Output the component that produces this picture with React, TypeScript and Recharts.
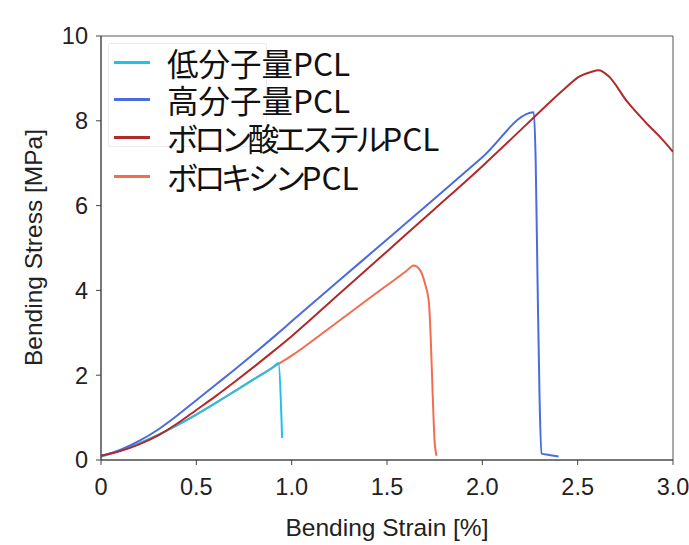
import * as React from "react";
import { Line, LineChart, ReferenceArea, XAxis, YAxis } from "recharts";

// strain [%] / stress [MPa]
const lowStrain = [0, 0.1, 0.2, 0.3, 0.4, 0.5, 0.6, 0.7, 0.8, 0.9, 0.93, 0.95];
const lowStress = [0.08, 0.22, 0.39, 0.59, 0.82, 1.07, 1.34, 1.62, 1.9, 2.18, 2.29, 0.52];

const highStrain = [0, 0.1, 0.2, 0.3, 0.4, 0.5, 0.6, 0.7, 0.8, 0.9, 1.0, 1.25, 1.5, 1.75, 2.0, 2.27, 2.28, 2.29, 2.3, 2.31, 2.35, 2.4];
const highStress = [0.1, 0.24, 0.45, 0.72, 1.05, 1.41, 1.77, 2.13, 2.5, 2.88, 3.27, 4.24, 5.2, 6.17, 7.14, 8.2, 7.0, 4.1, 1.5, 0.15, 0.12, 0.08];

const esterStrain = [0, 0.1, 0.2, 0.3, 0.4, 0.5, 0.6, 0.7, 0.8, 0.9, 1.0, 1.25, 1.5, 1.75, 2.0, 2.17, 2.27, 2.43, 2.51, 2.57, 2.61, 2.66, 2.76, 2.87, 2.94, 3.0];
const esterStress = [0.1, 0.21, 0.37, 0.58, 0.86, 1.18, 1.5, 1.84, 2.19, 2.55, 2.92, 3.92, 4.92, 5.92, 6.93, 7.65, 8.08, 8.75, 9.05, 9.15, 9.19, 9.06, 8.45, 7.9, 7.58, 7.27];

const boroxStrain = [0, 0.1, 0.2, 0.3, 0.4, 0.5, 0.6, 0.7, 0.8, 0.9, 1.0, 1.2, 1.4, 1.5, 1.6, 1.64, 1.67, 1.7, 1.72, 1.73, 1.74, 1.75, 1.76];
const boroxStress = [0.08, 0.22, 0.39, 0.59, 0.82, 1.07, 1.34, 1.62, 1.9, 2.18, 2.46, 3.12, 3.79, 4.12, 4.45, 4.59, 4.5, 4.15, 3.7, 2.8, 1.5, 0.42, 0.1];

const xTicks = [0, 0.5, 1.0, 1.5, 2.0, 2.5, 3.0];
const yTicks = [0, 2, 4, 6, 8, 10];

const seriesNames = ["低分子量PCL", "高分子量PCL", "ボロン酸エステルPCL", "ボロキシンPCL"];
const seriesColors = ["#1fc3ea", "#4a6cdc", "#b02a2a", "#f26d4f"];
const legendRows = [62, 99, 137, 176];
// kana in the original font runs narrower than Noto's full-width kana
const legendSpacing = [0, 0, -4.6, -4.6];

const toPoints = (xs: number[], ys: number[]) => xs.map((x, i) => ({ x, y: ys[i] }));

const LegendBox = () => (
    <div style={{ position: "absolute", left: 0, top: 0, pointerEvents: "none" }}>
        <div
            style={{
                position: "absolute",
                left: 108,
                top: 43,
                width: 157,
                height: 102,
                border: "1px solid #ececec",
                borderRadius: 2,
            }}
        />
        {seriesNames.map((name, i) => (
            <div
                key={name}
                style={{
                    position: "absolute",
                    left: 114,
                    top: legendRows[i] - 15,
                    height: 30,
                    display: "flex",
                    alignItems: "center",
                    whiteSpace: "nowrap",
                }}
            >
                <div style={{ width: 36, height: 3, background: seriesColors[i] }} />
                <span
                    style={{
                        marginLeft: 17,
                        fontFamily: "'Noto Sans CJK JP', sans-serif",
                        fontSize: 31.5,
                        color: "#111",
                        lineHeight: "30px",
                    }}
                >
                    <span style={{ letterSpacing: legendSpacing[i] }}>{name.replace(/PCL$/, "")}</span>
                    PCL
                </span>
            </div>
        ))}
    </div>
);

export default function App() {
    const font = "'Liberation Sans', Arial, sans-serif";
    const tickStyle = { fontFamily: font, fontSize: 23.5, fill: "#222" };
    return (
        <div style={{ position: "absolute", left: 0, top: 0, width: 689, height: 545, background: "#fff" }}>
            <LineChart width={689} height={545} margin={{ top: 36, right: 16, bottom: 55, left: 41 }}>
                <XAxis
                    dataKey="x"
                    type="number"
                    domain={[0, 3]}
                    ticks={xTicks}
                    tickFormatter={(v: number) => (v === 0 ? "0" : v.toFixed(1))}
                    height={30}
                    stroke="#444"
                    tickSize={5}
                    tickMargin={13}
                    tick={tickStyle}
                    allowDataOverflow
                    label={{
                        value: "Bending Strain [%]",
                        position: "insideBottom",
                        offset: -46,
                        style: { fontFamily: font, fontSize: 24.5, fill: "#222" },
                    }}
                />
                <YAxis
                    type="number"
                    domain={[0, 10]}
                    ticks={yTicks}
                    width={60}
                    stroke="#444"
                    tickSize={5}
                    tickMargin={8}
                    tick={tickStyle}
                    label={{
                        value: "Bending Stress [MPa]",
                        angle: -90,
                        position: "insideLeft",
                        offset: -8,
                        dy: 118,
                        style: { fontFamily: font, fontSize: 24.5, fill: "#222" },
                    }}
                />
                <ReferenceArea x1={0} x2={3} y1={0} y2={10} fill="none" stroke="#555" strokeWidth={1} />
                <Line data={toPoints(boroxStrain, boroxStress)} dataKey="y" type="monotone" stroke={seriesColors[3]} strokeWidth={2} dot={false} isAnimationActive={false} />
                <Line data={toPoints(lowStrain, lowStress)} dataKey="y" type="monotone" stroke={seriesColors[0]} strokeWidth={2} dot={false} isAnimationActive={false} />
                <Line data={toPoints(highStrain, highStress)} dataKey="y" type="monotone" stroke={seriesColors[1]} strokeWidth={2} dot={false} isAnimationActive={false} />
                <Line data={toPoints(esterStrain, esterStress)} dataKey="y" type="monotone" stroke={seriesColors[2]} strokeWidth={2} dot={false} isAnimationActive={false} />
            </LineChart>
            <LegendBox />
        </div>
    );
}
